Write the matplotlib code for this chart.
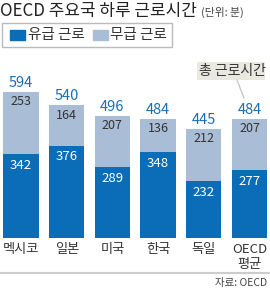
import matplotlib
matplotlib.use("Agg")
import matplotlib.pyplot as plt
from matplotlib.patches import Rectangle

plt.rcParams["font.family"] = ["Noto Sans CJK KR", "DejaVu Sans"]

countries = ["멕시코", "일본", "미국", "한국", "독일", "OECD\n평균"]
paid = [342, 376, 289, 348, 232, 277]
unpaid = [253, 164, 207, 136, 212, 207]
total = [594, 540, 496, 484, 445, 484]

dark = "#0b6db7"
light = "#a9bdd6"
txt_blue = "#1a6db5"

fig = plt.figure(figsize=(2.70, 2.89), dpi=100)
W, H = 270, 289

# axes: bottom of bars at y=238px, top of axes at y=60px
ax = fig.add_axes([0, 1 - 238 / H, 1, (238 - 60) / H])
ax.set_xlim(-0.46, 5.45)
ax.set_ylim(0, 178 / 0.246)
ax.axis("off")

x = range(len(countries))
ax.bar(x, paid, width=0.77, color=dark)
ax.bar(x, unpaid, bottom=paid, width=0.77, color=light)

for i in x:
    ax.text(i, paid[i] - 20, str(paid[i]), ha="center", va="top",
            color="white", fontsize=9.5)
    ax.text(i, paid[i] + unpaid[i] - 14, str(unpaid[i]), ha="center", va="top",
            color="#333333", fontsize=9)
    ax.text(i, total[i] + 8, str(total[i]), ha="center", va="bottom",
            color=txt_blue, fontsize=10.5)
    ax.text(i, -22, countries[i], ha="center", va="top", color="#333333",
            fontsize=9.5, linespacing=1.2)

# title
fig.text(0 / W, 1 - 11 / H, "OECD 주요국 하루 근로시간", fontsize=12.2,
         va="center", ha="left", color="#222222")
fig.text(201 / W, 1 - 12 / H, "(단위: 분)", fontsize=7.8, va="center",
         ha="left", color="#444444")

# legend box
fig.patches.append(Rectangle((2 / W, 1 - 47 / H), 170 / W, 24 / H,
                             transform=fig.transFigure, facecolor="white",
                             edgecolor="#bbbbbb", lw=1))
fig.patches.append(Rectangle((10 / W, 1 - 40 / H), 15 / W, 10 / H,
                             transform=fig.transFigure, color=dark))
fig.patches.append(Rectangle((93 / W, 1 - 40 / H), 15 / W, 10 / H,
                             transform=fig.transFigure, color=light))
fig.text(28 / W, 1 - 35 / H, "유급 근로", fontsize=10.5, va="center",
         color="#333333")
fig.text(110 / W, 1 - 35 / H, "무급 근로", fontsize=10.5, va="center",
         color="#333333")

# callout
fig.lines.append(plt.Line2D([237 / W, 244 / W], [1 - 80 / H, 1 - 98 / H],
                            transform=fig.transFigure, color="#c9c9bd", lw=1))
fig.patches.append(Rectangle((197 / W, 1 - 80 / H), 68 / W, 18 / H,
                             transform=fig.transFigure,
                             facecolor="#e9e9e0", edgecolor="none"))
fig.text(232 / W, 1 - 71 / H, "총 근로시간", fontsize=10, ha="center",
         va="center", color="#333333")

# bottom rule and source
fig.lines.append(plt.Line2D([0, 1], [1 - 273 / H, 1 - 273 / H],
                            transform=fig.transFigure, color="#cccccc", lw=1.5))
fig.text(267 / W, 1 - 283 / H, "자료: OECD", fontsize=7.5, ha="right",
         va="center", color="#444444")

fig.savefig("out.png", dpi=100)
